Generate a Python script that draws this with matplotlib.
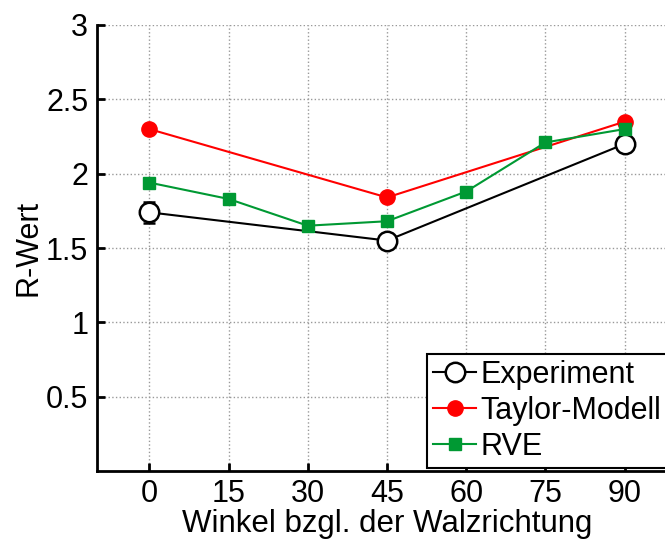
import matplotlib.pyplot as plt

plt.rcParams['font.family'] = ['Liberation Sans', 'DejaVu Sans']

# Winkel zur Walzrichtung (Grad)
angles_exp = [0, 45, 90]
r_exp = [1.74, 1.55, 2.20]
r_exp_err = [0.07, 0.03, 0.04]

angles_taylor = [0, 45, 90]
r_taylor = [2.30, 1.84, 2.35]

angles_rve = [0, 15, 30, 45, 60, 75, 90]
r_rve = [1.94, 1.83, 1.65, 1.68, 1.88, 2.21, 2.30]

xticks = [0, 15, 30, 45, 60, 75, 90]
yticks = [0.5, 1, 1.5, 2, 2.5, 3]
yticklabels = ['0.5', '1', '1.5', '2', '2.5', '3']

fig = plt.figure(figsize=(6.65, 5.43), dpi=100)
ax = fig.add_axes([96.5 / 665, 72 / 543, 581 / 665, 446 / 543])

green = '#009933'

# Fehlerbalken separat, damit die Legende nur Linie + Marker zeigt
ax.errorbar(angles_exp, r_exp, yerr=r_exp_err, fmt='none', ecolor='black',
            elinewidth=1.5, capsize=4, capthick=1.8, zorder=2)
h_exp, = ax.plot(angles_exp, r_exp, color='black', lw=1.5, marker='o',
                 ms=14, mfc='white', mec='black', mew=1.8,
                 label='Experiment', zorder=3)
h_tay, = ax.plot(angles_taylor, r_taylor, color='red', lw=1.5, marker='o',
                 ms=11, mfc='red', mec='red', label='Taylor-Modell', zorder=2)
h_rve, = ax.plot(angles_rve, r_rve, color=green, lw=1.5, marker='s', ms=9,
                 mfc=green, mec=green, label='RVE', zorder=4)

ax.set_xlim(-10, 100)
ax.set_ylim(0, 3)
ax.set_xticks(xticks)
ax.set_yticks(yticks)
ax.set_yticklabels(yticklabels)
ax.tick_params(direction='in', length=6, width=2, labelsize=22, pad=6)
ax.grid(True, color='#999999', linestyle=':', linewidth=1)

ax.spines['top'].set_visible(False)
ax.spines['right'].set_visible(False)
ax.spines['left'].set_linewidth(2)
ax.spines['bottom'].set_linewidth(2)

ax.set_xlabel('Winkel bzgl. der Walzrichtung', fontsize=22.5, labelpad=0)
ax.set_ylabel('R-Wert', fontsize=22, labelpad=2)

leg = ax.legend(handles=[h_exp, h_tay, h_rve], loc='lower left',
                bbox_to_anchor=(427 / 665, 75 / 543),
                bbox_transform=fig.transFigure, fontsize=22, frameon=True,
                fancybox=False, edgecolor='black', framealpha=1,
                handlelength=1.4, handletextpad=0.15, borderpad=0.2,
                labelspacing=0.2, borderaxespad=0)
leg.get_frame().set_linewidth(1.5)

fig.savefig('out.png', dpi=100)
